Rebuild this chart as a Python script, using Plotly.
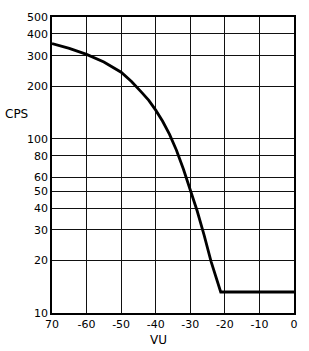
import plotly.graph_objects as go

vu = [-70, -65, -60, -55, -50, -47, -44, -42, -40, -38, -36, -34, -32, -30, -28, -26, -24, -21.2, 0]
cps = [352, 330, 305, 276, 241, 213, 184, 166, 146, 126, 106, 86, 67, 51.4, 38.5, 28, 19.8, 13.2, 13.2]

x_ticks = [-70, -60, -50, -40, -30, -20, -10, 0]
x_labels = ["70", "-60", "-50", "-40", "-30", "-20", "-10", "0"]
y_ticks = [10, 20, 30, 40, 50, 60, 80, 100, 200, 300, 400, 500]
y_labels = [str(v) for v in y_ticks]

font = "DejaVu Sans"

fig = go.Figure()
fig.add_trace(go.Scatter(x=vu, y=cps, mode="lines",
                         line=dict(color="black", width=2.8, shape="linear"),
                         showlegend=False, hoverinfo="skip"))

fig.update_layout(
    width=309, height=351,
    margin=dict(l=52, r=11, t=14, b=38),
    paper_bgcolor="white", plot_bgcolor="white",
    font=dict(family=font, size=11, color="black"),
    xaxis=dict(range=[-70, 0], tickmode="array", tickvals=x_ticks, ticktext=x_labels,
               showgrid=True, gridcolor="#111", gridwidth=1.2,
               showline=True, linecolor="black", linewidth=1.5, mirror=True,
               ticks="", zeroline=False, tickfont=dict(size=11)),
    yaxis=dict(type="log", range=[1, 2.69897], tickmode="array", tickvals=y_ticks, ticktext=y_labels,
               showgrid=True, gridcolor="#111", gridwidth=1.2,
               showline=True, linecolor="black", linewidth=1.5, mirror=True,
               ticks="", zeroline=False, tickfont=dict(size=11)),
    annotations=[
        dict(text="CPS", x=0, y=0.672, xref="paper", yref="paper", xanchor="left", yanchor="middle",
             showarrow=False, font=dict(size=12, family=font),
             xshift=-49),
        dict(text="VU", x=0.44, y=-0.062, xref="paper", yref="paper", yanchor="top",
             showarrow=False, font=dict(size=12, family=font)),
    ],
)

fig.write_html("out.html")
